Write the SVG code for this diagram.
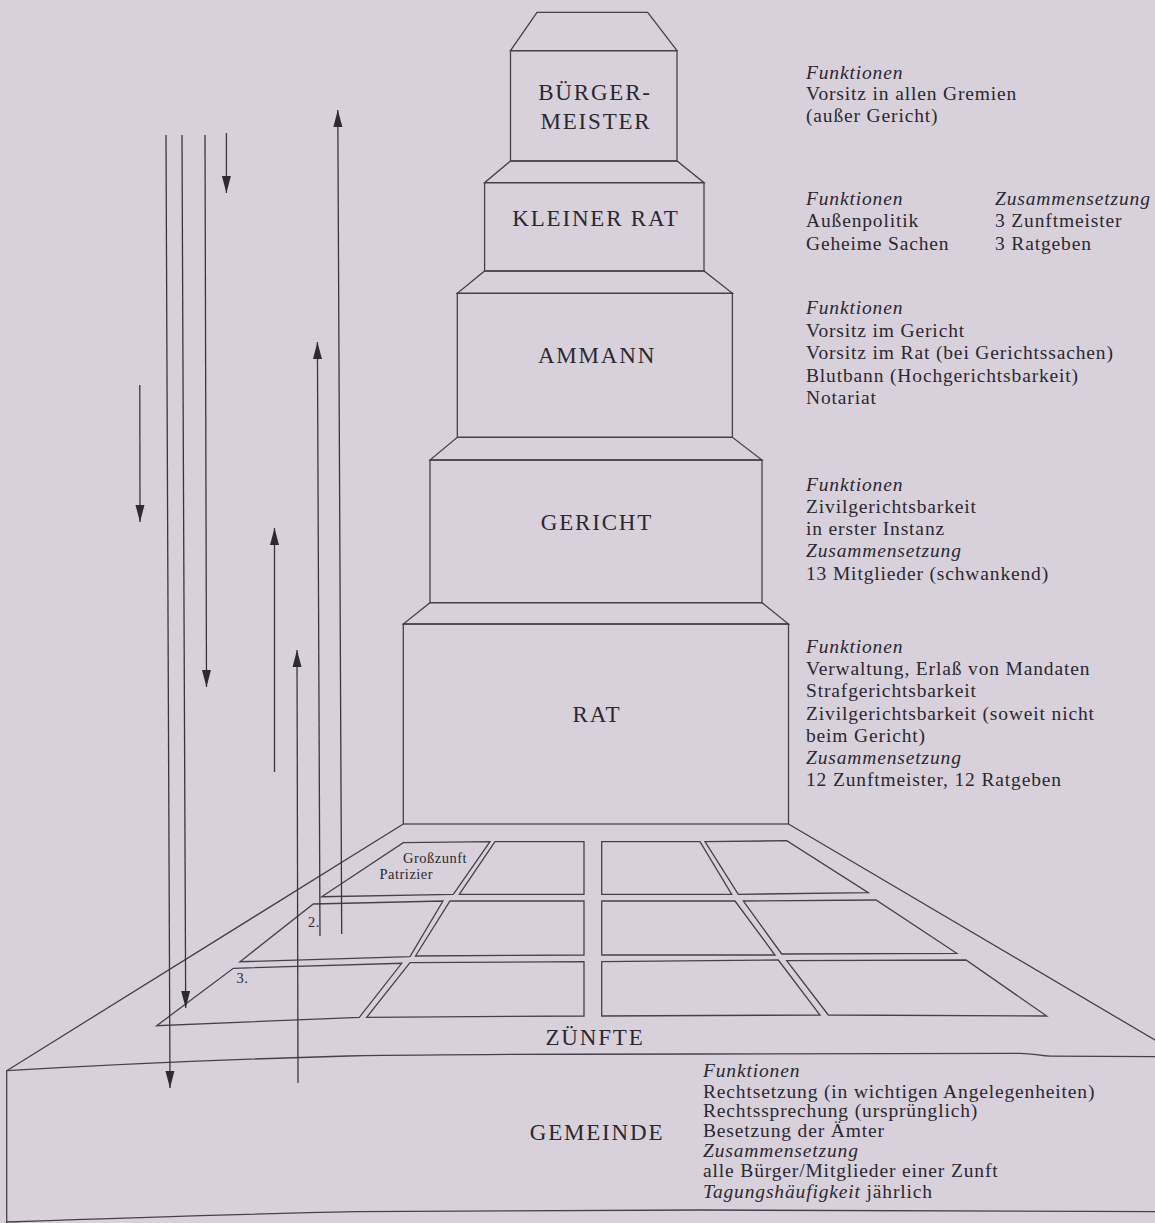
<svg xmlns="http://www.w3.org/2000/svg" width="1155" height="1223" viewBox="0 0 1155 1223">
<defs>
<marker id="ah" markerWidth="18" markerHeight="10" refX="17" refY="5" orient="auto" markerUnits="userSpaceOnUse"><path d="M0,0.5 L17,5 L0,9.5 z" fill="#2e2a33"/></marker>
<style>
.ln{fill:none;stroke:#45414a;stroke-width:1.3;stroke-linejoin:miter}
.ar{fill:none;stroke:#3a3640;stroke-width:1.3;marker-end:url(#ah)}
.pl{fill:none;stroke:#3a3640;stroke-width:1.3}
.lbl{font-family:"Liberation Serif","Times New Roman",serif;font-size:23px;letter-spacing:1.8px;fill:#2b2830;text-anchor:middle}
.tx{font-family:"Liberation Serif","Times New Roman",serif;font-size:19.5px;letter-spacing:0.85px;fill:#2b2830}
.it{font-style:italic}
.sm{font-family:"Liberation Serif","Times New Roman",serif;font-size:14.5px;letter-spacing:0.5px;fill:#2b2830}
</style>
</defs>
<rect x="0" y="0" width="1155" height="1223" fill="#d8d1db"/>

<g id="buergermeister">
<polygon class="ln" points="537,12.3 647.7,12.3 677,50.7 510.5,50.7"/>
<rect class="ln" x="510.5" y="50.7" width="166.5" height="110.3"/>
<text class="lbl" x="595" y="100">BÜRGER-</text>
<text class="lbl" x="596" y="128.5">MEISTER</text>
<text class="tx it" x="806" y="78.5">Funktionen</text>
<text class="tx" x="806" y="100">Vorsitz in allen Gremien</text>
<text class="tx" x="806" y="121.7">(außer Gericht)</text>
</g>

<g id="kleiner-rat">
<polygon class="ln" points="510.5,161 677,161 704,182.7 484.6,182.7"/>
<rect class="ln" x="484.6" y="182.7" width="219.4" height="88.3"/>
<text class="lbl" x="596" y="225.7">KLEINER RAT</text>
<text class="tx it" x="806" y="205">Funktionen</text>
<text class="tx" x="806" y="227.3">Außenpolitik</text>
<text class="tx" x="806" y="249.7">Geheime Sachen</text>
<text class="tx it" x="995" y="205">Zusammensetzung</text>
<text class="tx" x="995" y="227.3">3 Zunftmeister</text>
<text class="tx" x="995" y="249.7">3 Ratgeben</text>
</g>

<g id="ammann">
<polygon class="ln" points="484.6,271 704,271 732.4,293.3 457.3,293.3"/>
<rect class="ln" x="457.3" y="293.3" width="275.1" height="144"/>
<text class="lbl" x="597" y="363">AMMANN</text>
<text class="tx it" x="806" y="313.5">Funktionen</text>
<text class="tx" x="806" y="336.5">Vorsitz im Gericht</text>
<text class="tx" x="806" y="359">Vorsitz im Rat (bei Gerichtssachen)</text>
<text class="tx" x="806" y="381.5">Blutbann (Hochgerichtsbarkeit)</text>
<text class="tx" x="806" y="404">Notariat</text>
</g>

<g id="gericht">
<polygon class="ln" points="457.3,437.3 732.4,437.3 762,460 430,460"/>
<rect class="ln" x="430" y="460" width="332" height="142.7"/>
<text class="lbl" x="597" y="530">GERICHT</text>
<text class="tx it" x="806" y="490.7">Funktionen</text>
<text class="tx" x="806" y="512.7">Zivilgerichtsbarkeit</text>
<text class="tx" x="806" y="535">in erster Instanz</text>
<text class="tx it" x="806" y="557">Zusammensetzung</text>
<text class="tx" x="806" y="580">13 Mitglieder (schwankend)</text>
</g>

<g id="rat">
<polygon class="ln" points="430,602.7 762,602.7 788.5,624 403.3,624"/>
<rect class="ln" x="403.3" y="624" width="385.2" height="200"/>
<text class="lbl" x="597" y="721.7">RAT</text>
<text class="tx it" x="806" y="652.7">Funktionen</text>
<text class="tx" x="806" y="674.5">Verwaltung, Erlaß von Mandaten</text>
<text class="tx" x="806" y="697">Strafgerichtsbarkeit</text>
<text class="tx" x="806" y="719.5">Zivilgerichtsbarkeit (soweit nicht</text>
<text class="tx" x="806" y="741.7">beim Gericht)</text>
<text class="tx it" x="806" y="763.5">Zusammensetzung</text>
<text class="tx" x="806" y="786">12 Zunftmeister, 12 Ratgeben</text>
</g>

<g id="zuenfte">
<path class="ln" d="M403.3,824 L6.7,1070.7 M788.5,824 L1160,1043"/>
<polygon class="ln" points="403.3,842.7 490,841.7 453.3,894.3 321.7,896.7"/>
<polygon class="ln" points="495,841.7 584,841.7 584,894.3 459.3,894.3"/>
<polygon class="ln" points="601.7,841.7 700,841.7 731.7,894.3 601.7,894.3"/>
<polygon class="ln" points="705,841.7 786.7,840.7 868.3,892.7 738.3,894.3"/>
<polygon class="ln" points="313.3,904 443,901 410,956.7 240,961.7"/>
<polygon class="ln" points="450,901 584,901 584,955 415.5,956"/>
<polygon class="ln" points="601.7,901 735,901 775,955 601.7,955"/>
<polygon class="ln" points="743.3,901 876,900 956.7,953.3 781.7,954"/>
<polygon class="ln" points="233.3,968.3 401.7,963.3 359.3,1017.3 156.7,1025.7"/>
<polygon class="ln" points="410,962.7 584,961.7 584,1016 366.7,1017.3"/>
<polygon class="ln" points="601.7,961.7 778.3,960 820,1015 601.7,1016"/>
<polygon class="ln" points="786.7,960.7 966,960 1046.7,1016 828.3,1015"/>
<text class="sm" x="403" y="863.3">Großzunft</text>
<text class="sm" x="379.5" y="879.3">Patrizier</text>
<text class="sm" x="308" y="927.3">2.</text>
<text class="sm" x="236.5" y="982.7">3.</text>
<text class="lbl" x="595" y="1045">ZÜNFTE</text>
</g>

<g id="gemeinde">
<path class="ln" d="M6.7,1223 L6.7,1070.7 C120,1064 240,1059 348,1056 C470,1054 600,1054 700,1054 C850,1053.5 980,1053 1020,1053.3 C1035,1053.5 1040,1056 1050,1056.2 L1160,1056.7"/>
<path class="ln" d="M6.7,1222 C120,1218 240,1214 357,1211.7 C480,1210.5 600,1210 700,1210 C900,1210.5 1050,1211 1160,1211.7"/>
<text class="lbl" x="597" y="1140">GEMEINDE</text>
<text class="tx it" x="703" y="1076.7">Funktionen</text>
<text class="tx" x="703" y="1097.5">Rechtsetzung (in wichtigen Angelegenheiten)</text>
<text class="tx" x="703" y="1117">Rechtssprechung (ursprünglich)</text>
<text class="tx" x="703" y="1137">Besetzung der Ämter</text>
<text class="tx it" x="703" y="1157">Zusammensetzung</text>
<text class="tx" x="703" y="1177">alle Bürger/Mitglieder einer Zunft</text>
<text class="tx" x="703" y="1198"><tspan class="it">Tagungshäufigkeit</tspan> jährlich</text>
</g>

<g id="connectors">
<path class="ar" d="M166,135 L170,1088"/>
<path class="ar" d="M182,135 L185.7,1008"/>
<path class="ar" d="M205,135 L206.5,687"/>
<path class="ar" d="M226.4,133 L226.4,193"/>
<path class="ar" d="M139.8,385 L140,522"/>
<path class="ar" d="M274.5,772 L274.5,528"/>
<path class="ar" d="M298,1083 L297,650"/>
<path class="ar" d="M320,936 L317.4,342"/>
<path class="ar" d="M341.7,934 L337.8,110"/>
</g>
</svg>
